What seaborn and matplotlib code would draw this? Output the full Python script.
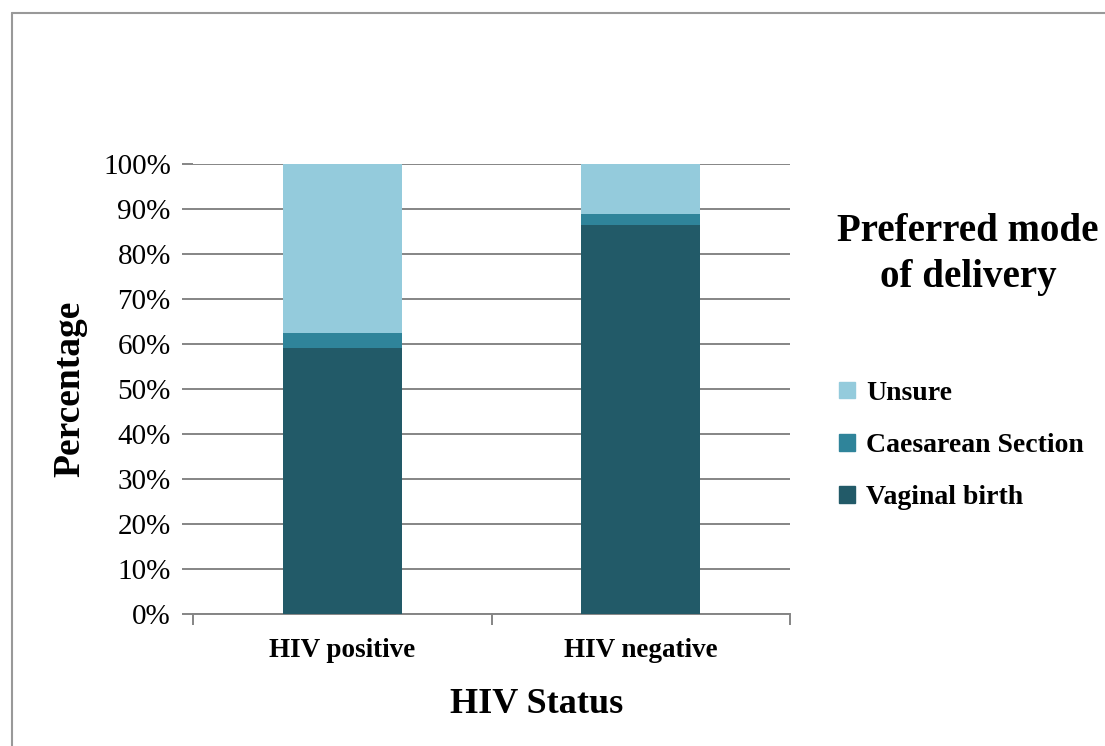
import pandas as pd
import matplotlib.pyplot as plt
import matplotlib.patches as mpatches
import seaborn as sns

# Data (percentages)
status = ["HIV positive", "HIV negative"]
vaginal = [59.2, 86.4]
caesarean = [3.2, 2.5]
unsure = [37.6, 11.1]
modes = ["Unsure", "Caesarean Section", "Vaginal birth"]
colors = {"Unsure": "#94cbdc", "Caesarean Section": "#2f849a", "Vaginal birth": "#225a68"}

df = pd.DataFrame({"status": status, "Vaginal birth": vaginal,
                   "Caesarean Section": caesarean, "Unsure": unsure})
df["cum_vag"] = df["Vaginal birth"]
df["cum_cs"] = df["cum_vag"] + df["Caesarean Section"]
df["cum_un"] = df["cum_cs"] + df["Unsure"]

sns.set_style("white")
plt.rcParams["font.family"] = ["Liberation Serif", "DejaVu Serif"]
plt.rcParams["text.color"] = "black"
plt.rcParams["xtick.color"] = "black"
plt.rcParams["ytick.color"] = "black"
plt.rcParams["axes.labelcolor"] = "black"

fig = plt.figure(figsize=(11.05, 7.46), dpi=100)
ax = fig.add_axes([0.1747, 0.1769, 0.5402, 0.6033])

# stacked bars: draw cumulative totals from the top layer down
for col, mode in [("cum_un", "Unsure"), ("cum_cs", "Caesarean Section"), ("cum_vag", "Vaginal birth")]:
    sns.barplot(data=df, x="status", y=col, color=colors[mode], width=0.4,
                saturation=1, ax=ax, zorder=3, edgecolor="none")

grid_c = "#858585"
ax.set_ylim(0, 100)
ax.set_xlim(-0.5, 1.5)
ax.set_yticks(range(0, 101, 10))
ax.set_yticklabels([f"{v}%" for v in range(0, 101, 10)], fontsize=21)
ax.yaxis.grid(True, color=grid_c, linewidth=1.4, zorder=0)
ax.tick_params(axis="y", length=8, color=grid_c, width=1.4, left=True, pad=8)
ax.set_xticks([0, 1])
ax.set_xticklabels(status, fontsize=19.5, fontweight="bold")
ax.set_xticks([-0.5, 0.5, 1.5], minor=True)
ax.tick_params(axis="x", which="major", length=0, pad=17)
ax.tick_params(axis="x", which="minor", length=8, color=grid_c, width=1.4, bottom=True)
for s in ["top", "right", "left"]:
    ax.spines[s].set_visible(False)
ax.spines["bottom"].set_color(grid_c)
ax.spines["bottom"].set_linewidth(1.4)

ax.set_xlabel("HIV Status", fontsize=26, fontweight="bold", labelpad=18)
ax.xaxis.label.set_x(0.575)
ax.set_ylabel("Percentage", fontsize=27, fontweight="bold", labelpad=11)

# legend
fig.text(0.876, 0.659, "Preferred mode\nof delivery", ha="center", va="center",
         fontsize=28, fontweight="bold", linespacing=1.3)
handles = [mpatches.Patch(color=colors[m], label=m) for m in modes]
fig.legend(handles=handles, loc="upper left", bbox_to_anchor=(0.737, 0.523),
           frameon=False, prop={"size": 20, "weight": "bold"},
           handlelength=0.55, handleheight=0.55, handletextpad=0.4, labelspacing=0.98)

# chart frame
fig.add_artist(plt.Line2D([0.011, 0.011], [0, 0.983], color="#999999", lw=1.5))
fig.add_artist(plt.Line2D([0.011, 1], [0.983, 0.983], color="#999999", lw=1.5))

fig.savefig("out.png", dpi=100)
